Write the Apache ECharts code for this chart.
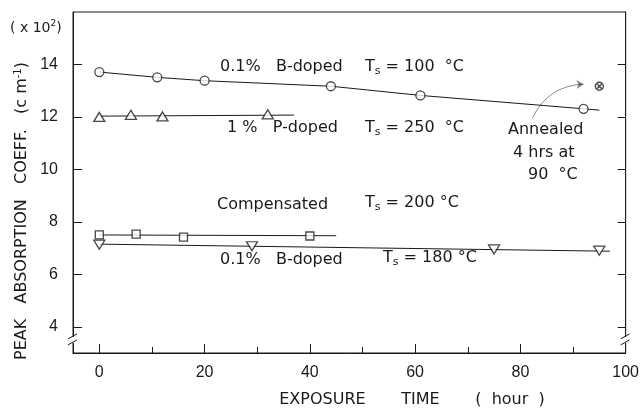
<!DOCTYPE html>
<html>
<head>
<meta charset="utf-8">
<script src="https://cdn.jsdelivr.net/npm/echarts@6/dist/echarts.min.js"></script>
<style>
  html, body { margin: 0; padding: 0; background: #fff; }
  #main { width: 642px; height: 412px; }
</style>
</head>
<body>
<div id="main"></div>
<script>
// exposure time (hour) / peak absorption coeff. (x10^2 cm^-1)
var timeB100 = [0, 11, 20, 44, 61, 92];
var absB100 = [13.71, 13.51, 13.38, 13.17, 12.82, 12.31];
var timeP250 = [0, 6, 12, 32];
var absP250 = [12.0, 12.08, 12.02, 12.1];
var timeComp = [0, 7, 16, 40];
var absComp = [7.5, 7.53, 7.42, 7.46];
var timeB180 = [0, 29, 75, 95];
var absB180 = [7.13, 7.07, 6.95, 6.9];
var annealedTime = [95];
var annealedAbs = [13.17];

// drawn lines (the B 100 line follows its points and runs a bit past the last one)
var endB100 = [95, 12.26];
var fitP250 = [[0, 12.03], [37, 12.07]];
var fitComp = [[0, 7.5], [45, 7.47]];
var fitB180 = [[0, 7.15], [97, 6.88]];
var arrowPath = [[82.3, 11.96], [92, 13.25]];

var xLabels = [0, 20, 40, 60, 80, 100];
var xMinor = [10, 30, 50, 70, 90];
var yLabels = [4, 6, 8, 10, 12, 14];

function pairs(xs, ys) {
  return xs.map(function (x, i) { return [x, ys[i]]; });
}

var ink = '#1a1a1a';
var txtFont = 'DejaVu Sans';
var numFont = 'Liberation Sans';

function label(x, y, parts) {
  return {
    type: 'text', x: x, y: y, silent: true,
    style: {
      text: parts, fill: ink, fontFamily: txtFont, fontSize: 16,
      textVerticalAlign: 'middle',
      rich: {
        s: { fontSize: 11, fontFamily: txtFont, fill: ink, padding: [9, 0, 0, 0] },
        sup: { fontSize: 10, fontFamily: txtFont, fill: ink, padding: [0, 0, 8, 0] }
      }
    }
  };
}

var myChart = echarts.init(document.getElementById('main'));

var option = {
  backgroundColor: '#fff',
  animation: false,
  grid: { left: 73, right: 7, top: 12, bottom: 59, show: true, borderColor: ink, borderWidth: 1 },
  xAxis: [
    {
      type: 'value', min: -5, max: 100,
      axisLine: { show: true, onZero: false, lineStyle: { color: ink } },
      axisTick: { show: true, inside: true, length: 9, customValues: xLabels, lineStyle: { color: ink } },
      axisLabel: { customValues: xLabels, color: ink, fontFamily: numFont, fontSize: 16, margin: 12 },
      splitLine: { show: false }
    },
    {
      type: 'value', min: -5, max: 100, position: 'bottom',
      axisLine: { show: false, onZero: false },
      axisTick: { show: true, inside: true, length: 6, customValues: xMinor, lineStyle: { color: ink } },
      axisLabel: { show: false },
      splitLine: { show: false }
    }
  ],
  yAxis: [
    {
      type: 'value', min: 3, max: 16,
      axisLine: { show: true, onZero: false, lineStyle: { color: ink } },
      axisTick: { show: true, inside: true, length: 9, customValues: yLabels, lineStyle: { color: ink } },
      axisLabel: { customValues: yLabels, color: ink, fontFamily: numFont, fontSize: 16, margin: 15 },
      splitLine: { show: false }
    },
    {
      type: 'value', min: 3, max: 16, position: 'right',
      axisLine: { show: true, onZero: false, lineStyle: { color: ink } },
      axisTick: { show: true, inside: true, length: 8, customValues: yLabels, lineStyle: { color: ink } },
      axisLabel: { show: false },
      splitLine: { show: false }
    }
  ],
  series: [
    {
      type: 'line', data: pairs(timeB100, absB100).concat([endB100]),
      showSymbol: false, lineStyle: { color: ink, width: 1 }, silent: true
    },
    { type: 'line', data: fitP250, showSymbol: false, lineStyle: { color: ink, width: 1 }, silent: true },
    { type: 'line', data: fitComp, showSymbol: false, lineStyle: { color: ink, width: 1 }, silent: true },
    { type: 'line', data: fitB180, showSymbol: false, lineStyle: { color: ink, width: 1 }, silent: true },
    {
      type: 'scatter', data: pairs(timeB100, absB100), symbol: 'circle', symbolSize: 9, z: 5,
      itemStyle: { color: '#fff', borderColor: ink, borderWidth: 1.3 }
    },
    {
      type: 'scatter', data: pairs(timeP250, absP250), symbol: 'triangle', symbolSize: [11, 9], z: 5,
      itemStyle: { color: '#fff', borderColor: ink, borderWidth: 1.3 }
    },
    {
      type: 'scatter', data: pairs(timeComp, absComp), symbol: 'rect', symbolSize: 8, z: 5,
      itemStyle: { color: '#fff', borderColor: ink, borderWidth: 1.3 }
    },
    {
      type: 'scatter', data: pairs(timeB180, absB180), symbol: 'triangle', symbolRotate: 180,
      symbolSize: [11, 9], z: 5,
      itemStyle: { color: '#fff', borderColor: ink, borderWidth: 1.3 }
    },
    {
      type: 'scatter', data: pairs(annealedTime, annealedAbs), z: 5,
      symbol: 'path://M0,5A5,5,0,1,1,10,5A5,5,0,1,1,0,5ZM1.6,1.6L8.4,8.4M8.4,1.6L1.6,8.4',
      symbolSize: 8,
      itemStyle: { color: 'rgba(0,0,0,0)', borderColor: ink, borderWidth: 1.4 }
    },
    {
      type: 'lines', coordinateSystem: 'cartesian2d', silent: true, z: 4,
      data: [{ coords: arrowPath }],
      symbol: ['none', 'arrow'], symbolSize: 7,
      lineStyle: { color: ink, width: 1, curveness: 0.3 }
    }
  ],
  graphic: [
    label(220, 67, '0.1%   B-doped'),
    label(365, 67, 'T{s|s} = 100  °C'),
    label(227, 128, '1 %   P-doped'),
    label(365, 128, 'T{s|s} = 250  °C'),
    label(508, 130, 'Annealed'),
    label(513, 153, '4 hrs at'),
    label(528, 175, '90  °C'),
    label(217, 205, 'Compensated'),
    label(365, 203, 'T{s|s} = 200 °C'),
    label(220, 260, '0.1%   B-doped'),
    label(383, 258, 'T{s|s} = 180 °C'),
    {
      type: 'text', x: 10, y: 28, silent: true,
      style: {
        text: '( x 10{sup|2})', fill: ink, fontFamily: txtFont, fontSize: 14, textVerticalAlign: 'middle',
        rich: { sup: { fontSize: 9, fontFamily: txtFont, fill: ink, padding: [0, 0, 8, 0] } }
      }
    },
    {
      type: 'text', x: 412, y: 400, silent: true,
      style: {
        text: 'EXPOSURE       TIME       (  hour  )', fill: ink, fontFamily: txtFont, fontSize: 16,
        textAlign: 'center', textVerticalAlign: 'middle'
      }
    },
    {
      type: 'text', x: 22, y: 211, rotation: Math.PI / 2, silent: true,
      style: {
        text: 'PEAK   ABSORPTION   COEFF.   (c m{sup|-1})', fill: ink, fontFamily: txtFont, fontSize: 16,
        textAlign: 'center', textVerticalAlign: 'middle',
        rich: { sup: { fontSize: 10, fontFamily: txtFont, fill: ink, padding: [0, 0, 8, 0] } }
      }
    }
  ]
};

myChart.setOption(option);

// axis break marks near the bottom of both vertical axes
var pLeft = myChart.convertToPixel({ xAxisIndex: 0, yAxisIndex: 0 }, [-5, 3.5]);
var pRight = myChart.convertToPixel({ xAxisIndex: 0, yAxisIndex: 0 }, [100, 3.5]);
function breakMark(p) {
  return [
    { type: 'rect', shape: { x: p[0] - 2, y: p[1] - 3, width: 4, height: 6 }, style: { fill: '#fff' }, z: 10 },
    { type: 'line', shape: { x1: p[0] - 5, y1: p[1] - 1, x2: p[0] + 4, y2: p[1] - 6 }, style: { stroke: ink, lineWidth: 1 }, z: 11 },
    { type: 'line', shape: { x1: p[0] - 5, y1: p[1] + 5, x2: p[0] + 4, y2: p[1] }, style: { stroke: ink, lineWidth: 1 }, z: 11 }
  ];
}
myChart.setOption({ graphic: option.graphic.concat(breakMark(pLeft), breakMark(pRight)) });
</script>
</body>
</html>
